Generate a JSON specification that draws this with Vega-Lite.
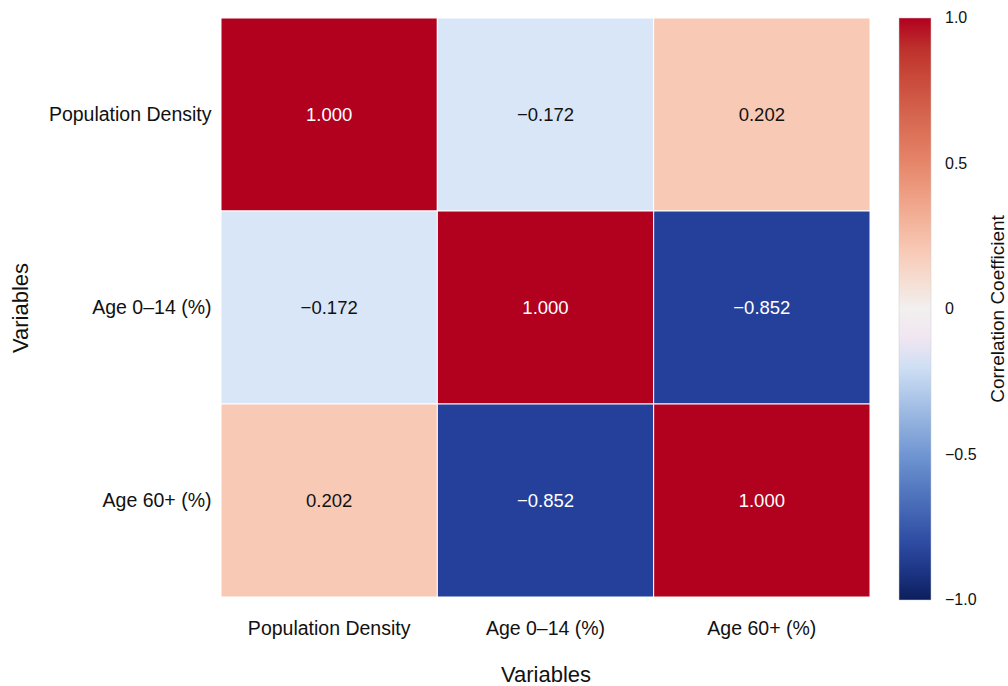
{
  "$schema": "https://vega.github.io/schema/vega-lite/v6.json",
  "autosize": "none",
  "width": 649,
  "height": 579,
  "padding": {"left": 221, "top": 18, "right": 138, "bottom": 89},
  "background": "white",
  "config": {
    "font": "Liberation Sans",
    "view": {"stroke": null}
  },
  "data": {
    "values": [
      {"row": "Population Density", "col": "Population Density", "r": 1.0},
      {"row": "Population Density", "col": "Age 0–14 (%)", "r": -0.172},
      {"row": "Population Density", "col": "Age 60+ (%)", "r": 0.202},
      {"row": "Age 0–14 (%)", "col": "Population Density", "r": -0.172},
      {"row": "Age 0–14 (%)", "col": "Age 0–14 (%)", "r": 1.0},
      {"row": "Age 0–14 (%)", "col": "Age 60+ (%)", "r": -0.852},
      {"row": "Age 60+ (%)", "col": "Population Density", "r": 0.202},
      {"row": "Age 60+ (%)", "col": "Age 0–14 (%)", "r": -0.852},
      {"row": "Age 60+ (%)", "col": "Age 60+ (%)", "r": 1.0}
    ]
  },
  "encoding": {
    "x": {
      "field": "col", "type": "nominal",
      "sort": ["Population Density", "Age 0–14 (%)", "Age 60+ (%)"],
      "title": "Variables",
      "axis": {
        "labelAngle": 0, "labelFontSize": 19.5, "labelColor": "#111", "labelPadding": 22,
        "ticks": false, "domain": false,
        "titleFontSize": 22, "titleFontWeight": "normal", "titleColor": "#111", "titlePadding": 27
      }
    },
    "y": {
      "field": "row", "type": "nominal",
      "sort": ["Population Density", "Age 0–14 (%)", "Age 60+ (%)"],
      "title": "Variables",
      "axis": {
        "labelFontSize": 19.5, "labelColor": "#111", "labelPadding": 10,
        "ticks": false, "domain": false,
        "titleFontSize": 22, "titleFontWeight": "normal", "titleColor": "#111", "titlePadding": 16
      }
    }
  },
  "layer": [
    {
      "mark": {"type": "rect", "stroke": "white", "strokeWidth": 1},
      "encoding": {
        "color": {
          "field": "r", "type": "quantitative",
          "title": "Correlation Coefficient",
          "scale": {
            "domain": [-1, -0.852, -0.5, -0.172, 0, 0.202, 0.5, 1],
            "range": ["#0c1f5c", "#24409a", "#7096d2", "#d8e6f7", "#f2f0ef", "#f8c9b5", "#e6866a", "#b2001f"]
          },
          "legend": {
            "orient": "right",
            "direction": "vertical",
            "gradientLength": 582,
            "gradientThickness": 32,
            "gradientStrokeColor": "#ccc",
            "gradientStrokeWidth": 0.5,
            "offset": 29,
            "values": [-1, -0.5, 0, 0.5, 1],
            "labelExpr": "datum.value == 0 ? '0' : format(datum.value, '.1f')",
            "labelFontSize": 16,
            "labelColor": "#111",
            "labelOffset": 14,
            "titleOrient": "right",
            "titleFontSize": 19,
            "titleFontWeight": "normal",
            "titleColor": "#111",
            "titleAnchor": "middle",
            "titlePadding": 31,
            "titleLimit": 500,
            "encode": {
              "title": {"update": {"angle": {"value": -90}}},
              "labels": {"update": {"baseline": {"value": "middle"}}}
            }
          }
        }
      }
    },
    {
      "mark": {"type": "text", "fontSize": 18.5},
      "encoding": {
        "text": {"field": "r", "type": "quantitative", "format": ".3f"},
        "color": {
          "condition": {"test": "abs(datum.r) > 0.5", "value": "white"},
          "value": "#111"
        }
      }
    }
  ]
}
